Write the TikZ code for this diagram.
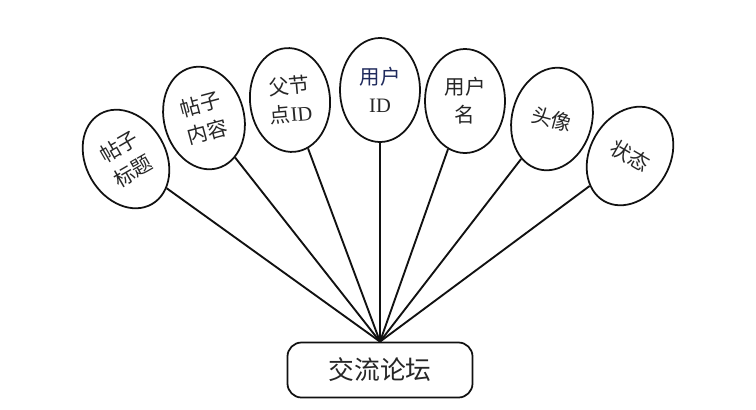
\documentclass[tikz,border=0pt]{standalone}
\usepackage{fontspec}
\setmainfont{Liberation Serif}
\newfontfamily\cjk{Noto Sans CJK SC}
\usepackage{xcolor}
\usepackage{tikz}
\usetikzlibrary{positioning,shapes.geometric}
\definecolor{cLine}{HTML}{111111}
\definecolor{cText}{HTML}{262626}
\definecolor{cIdText}{HTML}{1F2A5C}
\tikzset{
  attr/.style  ={ellipse, draw=cLine, line width=1.5pt, fill=white,
                 minimum width=2.4cm, minimum height=3.12cm, inner sep=0pt,
                 align=center, text=cText, font=\cjk\fontsize{17.5}{24}\selectfont},
  entity/.style={rectangle, rounded corners=0.42cm, draw=cLine, line width=1.5pt,
                 fill=white, minimum width=5.55cm, minimum height=1.65cm,
                 text=cText, font=\cjk\fontsize{22}{26}\selectfont},
  link/.style  ={draw=cLine, line width=1.6pt},
}

\begin{document}
\begin{tikzpicture}[x=0.03cm, y=-0.03cm]
  \useasboundingbox (0,0) rectangle (756,409);

  % ---- entity ----
  \node[entity] (forum) at (380,370) {交流论坛};

  % ---- attributes (fanned out above the entity) ----
  \node[attr, rotate=30]  (title)   at (126,159) {帖子\\标题};
  \node[attr, rotate=15]  (content) at (204,118) {帖子\\内容};
  \node[attr, rotate=5]   (parent)  at (290,100) {父节\\点{\rmfamily ID}};
  \node[attr]             (uid)     at (380,90)  {\textcolor{cIdText}{用户}\\{\rmfamily ID}};
  \node[attr]             (uname)   at (465,101) {用户\\名};
  \node[attr, rotate=-15] (avatar)  at (552,119) {头像};
  \node[attr, rotate=-30] (state)   at (630,156) {状态};

  % ---- links ----
  \foreach \a in {title,content,parent,uid,uname,avatar,state}
    \draw[link] (forum.north) -- (\a);

\end{tikzpicture}
\end{document}
